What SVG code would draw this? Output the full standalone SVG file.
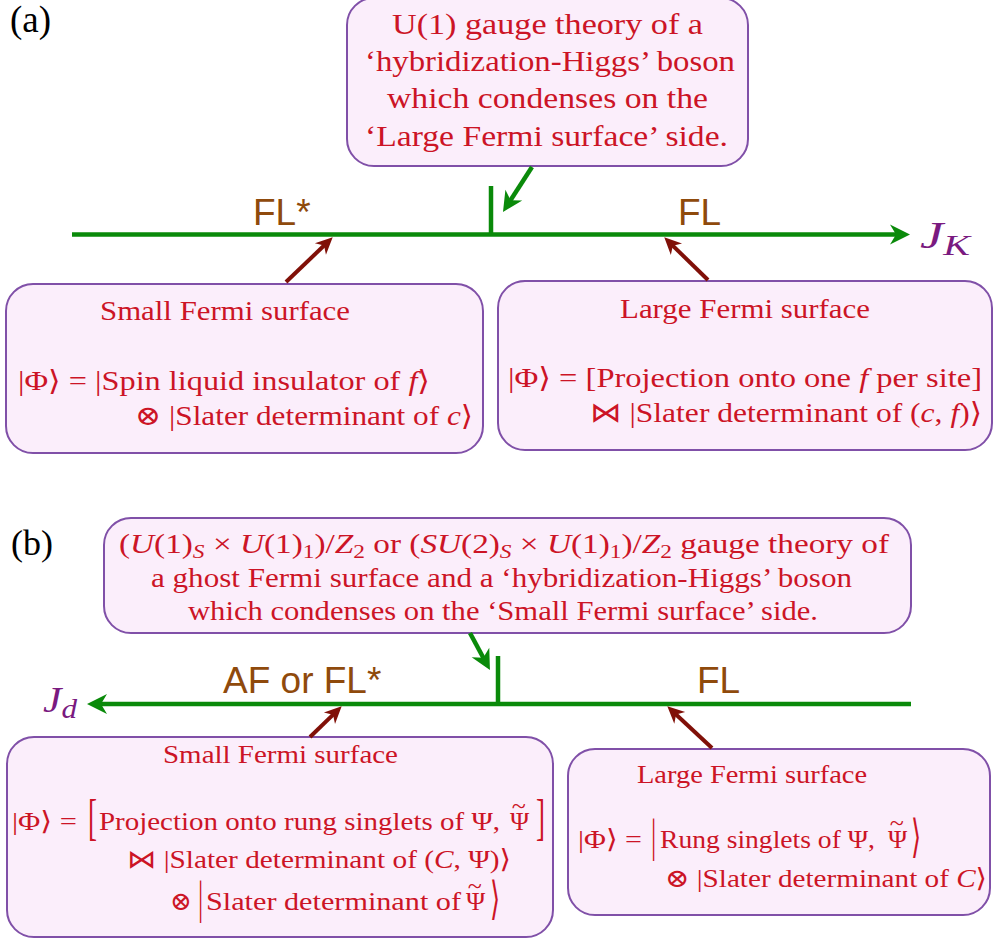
<svg xmlns="http://www.w3.org/2000/svg" width="993" height="941" viewBox="0 0 993 941">
<style>
.box{fill:#fbeefb;stroke:#8050a8;stroke-width:2}
.t{fill:#cc1426;font-family:"Liberation Serif","DejaVu Serif",serif}
.i{font-style:italic}
.lab{fill:#8f4a0c;font-family:"Liberation Sans",Arial,sans-serif;font-size:37px}
.pl{fill:#000;font-family:"Liberation Serif",serif}
.ax{fill:#7a1a80;font-family:"Liberation Serif",serif;font-style:italic}
.g{stroke:#0a8a0a;stroke-width:4.5;fill:none}
.r{stroke:#801008;stroke-width:4;fill:none}
</style>
<defs>
<marker id="gh" markerUnits="userSpaceOnUse" markerWidth="20" markerHeight="20" refX="10" refY="0" orient="auto" overflow="visible"><path d="M0,-10 L20,0 L0,10 L6,0 z" fill="#0a8a0a"/></marker>
<marker id="rh" markerUnits="userSpaceOnUse" markerWidth="17" markerHeight="17" refX="8" refY="0" orient="auto" overflow="visible"><path d="M0,-8 L17,0 L0,8 L5,0 z" fill="#801008"/></marker>
</defs>

<text class="pl" x="10" y="32" font-size="37">(a)</text>
<text class="pl" x="11" y="555" font-size="36">(b)</text>

<g id="a-top">
<rect class="box" x="347" y="-2" width="401" height="168" rx="27"/>
<text class="t" font-size="29" x="392" y="34" textLength="311" lengthAdjust="spacingAndGlyphs">U(1) gauge theory of a</text>
<text class="t" font-size="29" x="365" y="71" textLength="370" lengthAdjust="spacingAndGlyphs">‘hybridization-Higgs’ boson</text>
<text class="t" font-size="29" x="387" y="108" textLength="321" lengthAdjust="spacingAndGlyphs">which condenses on the</text>
<text class="t" font-size="29" x="365" y="146" textLength="363" lengthAdjust="spacingAndGlyphs">‘Large Fermi surface’ side.</text>
</g>

<g id="a-small">
<rect class="box" x="6" y="284" width="477" height="169" rx="27"/>
<text class="t" font-size="28" x="100" y="320" textLength="250" lengthAdjust="spacingAndGlyphs">Small Fermi surface</text>
<text class="t" font-size="28" x="18" y="390" textLength="412" lengthAdjust="spacingAndGlyphs">|Φ⟩ = |Spin liquid insulator of <tspan class="i">f</tspan>⟩</text>
<text class="t" font-size="28" x="135" y="425" textLength="338" lengthAdjust="spacingAndGlyphs">⊗ |Slater determinant of <tspan class="i">c</tspan>⟩</text>
</g>

<g id="a-large">
<rect class="box" x="498" y="281" width="494" height="169" rx="27"/>
<text class="t" font-size="28" x="620" y="318" textLength="250" lengthAdjust="spacingAndGlyphs">Large Fermi surface</text>
<text class="t" font-size="28" x="508" y="387" textLength="474" lengthAdjust="spacingAndGlyphs">|Φ⟩ = [Projection onto one <tspan class="i">f</tspan> per site]</text>
<text class="t" font-size="28" x="590" y="422" textLength="392" lengthAdjust="spacingAndGlyphs">⋈ |Slater determinant of (<tspan class="i">c</tspan>, <tspan class="i">f</tspan>)⟩</text>
</g>

<g id="a-labels">
<text class="lab" x="253" y="225">FL*</text>
<text class="lab" x="678" y="225">FL</text>
<text class="ax" x="920" y="248" font-size="38" textLength="50" lengthAdjust="spacingAndGlyphs">J<tspan font-size="29" dy="7">K</tspan></text>
</g>

<g id="b-top">
<rect class="box" x="104" y="518" width="807" height="115" rx="27"/>
<text class="t" font-size="27" x="119" y="553" textLength="770" lengthAdjust="spacingAndGlyphs">(<tspan class="i">U</tspan>(1)<tspan class="i" font-size="19" dy="5">S</tspan><tspan dy="-5"> × </tspan><tspan class="i">U</tspan>(1)<tspan font-size="19" dy="5">1</tspan><tspan dy="-5">)/</tspan><tspan class="i">Z</tspan><tspan font-size="19" dy="5">2</tspan><tspan dy="-5"> or (</tspan><tspan class="i">SU</tspan>(2)<tspan class="i" font-size="19" dy="5">S</tspan><tspan dy="-5"> × </tspan><tspan class="i">U</tspan>(1)<tspan font-size="19" dy="5">1</tspan><tspan dy="-5">)/</tspan><tspan class="i">Z</tspan><tspan font-size="19" dy="5">2</tspan><tspan dy="-5"> gauge theory of</tspan></text>
<text class="t" font-size="27" x="151" y="587" textLength="701" lengthAdjust="spacingAndGlyphs">a ghost Fermi surface and a ‘hybridization-Higgs’ boson</text>
<text class="t" font-size="27" x="188" y="620" textLength="630" lengthAdjust="spacingAndGlyphs">which condenses on the ‘Small Fermi surface’ side.</text>
</g>

<g id="b-small">
<rect class="box" x="7" y="737" width="546" height="200" rx="27"/>
<text class="t" font-size="26" x="163" y="763" textLength="235" lengthAdjust="spacingAndGlyphs">Small Fermi surface</text>
<text class="t" font-size="26" x="12" y="830" textLength="65" lengthAdjust="spacingAndGlyphs">|Φ⟩ =</text>
<text class="t" font-size="27" transform="translate(88,834) scale(1,1.85)">[</text>
<text class="t" font-size="26" x="99" y="830" textLength="401" lengthAdjust="spacingAndGlyphs">Projection onto rung singlets of Ψ,</text>
<text class="t" font-size="26" x="510" y="830" dx="0 -17.5" dy="0 -16">Ψ~</text>
<text class="t" font-size="27" transform="translate(536,834) scale(1,1.85)">]</text>
<text class="t" font-size="26" x="127" y="868" textLength="384" lengthAdjust="spacingAndGlyphs">⋈ |Slater determinant of (<tspan class="i">C</tspan>, Ψ)⟩</text>
<text class="t" font-size="26" x="170" y="910">⊗</text>
<text class="t" font-size="26" transform="translate(198,913) scale(1,1.8)">|</text>
<text class="t" font-size="26" x="206" y="910" textLength="255" lengthAdjust="spacingAndGlyphs">Slater determinant of</text>
<text class="t" font-size="26" x="466" y="910" dx="0 -17.5" dy="0 -16">Ψ~</text>
<text class="t" font-size="26" transform="translate(490,914) scale(1,1.75)">⟩</text>
</g>

<g id="b-large">
<rect class="box" x="568" y="749" width="422" height="166" rx="27"/>
<text class="t" font-size="26" x="637" y="783" textLength="230" lengthAdjust="spacingAndGlyphs">Large Fermi surface</text>
<text class="t" font-size="26" x="578" y="848" textLength="64" lengthAdjust="spacingAndGlyphs">|Φ⟩ =</text>
<text class="t" font-size="26" transform="translate(651,851) scale(1,1.8)">|</text>
<text class="t" font-size="26" x="660" y="848" textLength="215" lengthAdjust="spacingAndGlyphs">Rung singlets of Ψ,</text>
<text class="t" font-size="26" x="888" y="848" dx="0 -17.5" dy="0 -17">Ψ~</text>
<text class="t" font-size="26" transform="translate(911,852) scale(1,1.75)">⟩</text>
<text class="t" font-size="26" x="665" y="887" textLength="322" lengthAdjust="spacingAndGlyphs">⊗ |Slater determinant of <tspan class="i">C</tspan>⟩</text>
</g>

<g id="b-labels">
<text class="lab" x="223" y="693">AF or FL*</text>
<text class="lab" x="697" y="693">FL</text>
<text class="ax" x="43" y="712" font-size="36" textLength="34" lengthAdjust="spacingAndGlyphs">J<tspan font-size="27" dy="6">d</tspan></text>
</g>

<g id="connectors">
<line class="g" x1="72" y1="234.5" x2="900" y2="234.5" marker-end="url(#gh)"/>
<line class="g" x1="491" y1="186" x2="491" y2="234.5"/>
<line class="g" x1="532" y1="167" x2="508.4" y2="203.6" marker-end="url(#gh)"/>
<line class="r" x1="286" y1="282" x2="326.2" y2="243.5" marker-end="url(#rh)"/>
<line class="r" x1="708" y1="280" x2="670.7" y2="243.6" marker-end="url(#rh)"/>
<line class="g" x1="911" y1="704" x2="97" y2="704" marker-end="url(#gh)"/>
<line class="g" x1="498" y1="656" x2="498" y2="704"/>
<line class="g" x1="470" y1="633" x2="485.2" y2="661.2" marker-end="url(#gh)"/>
<line class="r" x1="310" y1="737" x2="335.2" y2="712.6" marker-end="url(#rh)"/>
<line class="r" x1="712" y1="748" x2="673.9" y2="712.5" marker-end="url(#rh)"/>
</g>
</svg>
